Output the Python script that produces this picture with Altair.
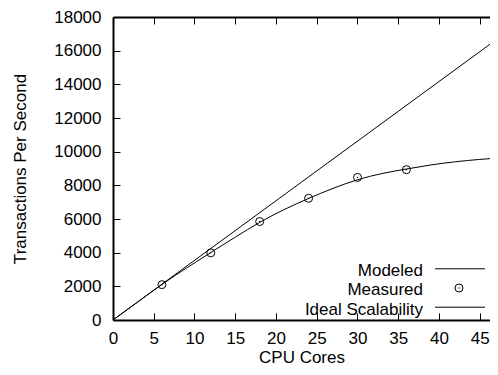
import altair as alt
import pandas as pd

# ---- data ----
cores_measured = [6, 12, 18, 24, 30, 36]
tps_measured = [2100, 3990, 5850, 7230, 8470, 8930]

cores_model = [0, 3, 6, 9, 12, 15, 18, 21, 24, 27, 30, 33, 36, 39, 42, 45, 48]
tps_model = [0, 1060, 2110, 3080, 4010, 4920, 5800, 6560, 7220, 7820, 8330,
             8700, 8970, 9210, 9400, 9540, 9650]

cores_ideal = [0, 48]
tps_ideal = [0, 17000]

x_ticks = [0, 5, 10, 15, 20, 25, 30, 35, 40, 45]
y_ticks = [0, 2000, 4000, 6000, 8000, 10000, 12000, 14000, 16000, 18000]
legend_labels = ["Modeled", "Measured", "Ideal Scalability"]

df_measured = pd.DataFrame({"cores": cores_measured, "tps": tps_measured})
df_model = pd.DataFrame({"cores": cores_model, "tps": tps_model})
df_ideal = pd.DataFrame({"cores": cores_ideal, "tps": tps_ideal})

W, H = 377, 303
FONT = "Liberation Sans"
FS = 17

xscale = alt.Scale(domain=[0, 46.26], nice=False, zero=False)
yscale = alt.Scale(domain=[0, 18000], nice=False)

# Ideal line + main labelled axes (bottom / left)
ideal = alt.Chart(df_ideal).mark_line(color="black", strokeWidth=1, clip=True).encode(
    x=alt.X("cores:Q", scale=xscale,
            axis=alt.Axis(orient="bottom", values=x_ticks, title="CPU Cores", format="d",
                          ticks=False, domain=True, domainWidth=2,
                          labelPadding=10, titlePadding=3)),
    y=alt.Y("tps:Q", scale=yscale,
            axis=alt.Axis(orient="left", values=y_ticks, title="Transactions Per Second",
                          format="d", ticks=False, domain=True, domainWidth=2,
                          labelPadding=12, titlePadding=24)),
)

# Modeled curve + inward ticks on bottom and left edges
model = alt.Chart(df_model).mark_line(color="black", strokeWidth=1, clip=True,
                                      interpolate="natural").encode(
    x=alt.X("cores:Q", scale=xscale,
            axis=alt.Axis(orient="top", offset=-H, values=x_ticks, title=None,
                          labels=False, domain=False, ticks=True, tickSize=7)),
    y=alt.Y("tps:Q", scale=yscale,
            axis=alt.Axis(orient="right", offset=-W, values=y_ticks, title=None,
                          labels=False, domain=False, ticks=True, tickSize=7)),
)

# Measured points + top border with inward ticks
measured = alt.Chart(df_measured).mark_point(
    shape="circle", filled=False, color="black", size=64, strokeWidth=1, opacity=1
).encode(
    x=alt.X("cores:Q", scale=xscale,
            axis=alt.Axis(orient="bottom", offset=-H, values=x_ticks, title=None,
                          labels=False, domain=True, domainWidth=2,
                          ticks=True, tickSize=7)),
    y=alt.Y("tps:Q", scale=yscale, axis=None),
)
measured_dot = alt.Chart(df_measured).mark_point(
    shape="circle", filled=True, color="black", size=2, opacity=1
).encode(
    x=alt.X("cores:Q", scale=xscale, axis=None),
    y=alt.Y("tps:Q", scale=yscale, axis=None),
)

# Key (gnuplot style: text right-aligned, sample to the right)
row_y = [251.8, 271, 290.2]
text_base = [259.1, 278.3, 297.5]
legend_layers = []
for i, lab in enumerate(legend_labels):
    ldf = pd.DataFrame({"label": [lab]})
    legend_layers.append(
        alt.Chart(ldf).mark_text(align="right", baseline="alphabetic", font=FONT,
                                 fontSize=FS, color="black").encode(
            x=alt.value(310), y=alt.value(text_base[i]), text="label:N")
    )
    if lab == "Measured":
        legend_layers.append(
            alt.Chart(ldf).mark_point(shape="circle", filled=False, color="black",
                                      size=64, strokeWidth=1, opacity=1).encode(
                x=alt.value(346), y=alt.value(row_y[i]))
        )
        legend_layers.append(
            alt.Chart(ldf).mark_point(shape="circle", filled=True, color="black",
                                      size=2, opacity=1).encode(
                x=alt.value(346), y=alt.value(row_y[i]))
        )
    else:
        legend_layers.append(
            alt.Chart(ldf).mark_rule(color="black", strokeWidth=1).encode(
                x=alt.value(322), x2=alt.value(372), y=alt.value(row_y[i]))
        )

chart = alt.layer(ideal, model, measured, measured_dot, *legend_layers).resolve_axis(
    x="independent", y="independent"
).properties(
    width=W, height=H,
    autosize=alt.AutoSizeParams(type="none"),
    padding={"left": 105, "top": 9, "right": 0, "bottom": 46},
).configure_view(stroke=None).configure_axis(
    labelFont=FONT, labelFontSize=FS, labelColor="black",
    titleFont=FONT, titleFontSize=FS, titleFontWeight="normal", titleColor="black",
    tickColor="black", tickWidth=1, domainColor="black",
    grid=False, labelFlush=False, labelOverlap=False,
)

chart.save("out.html", embed_options={"renderer": "svg", "actions": False})
